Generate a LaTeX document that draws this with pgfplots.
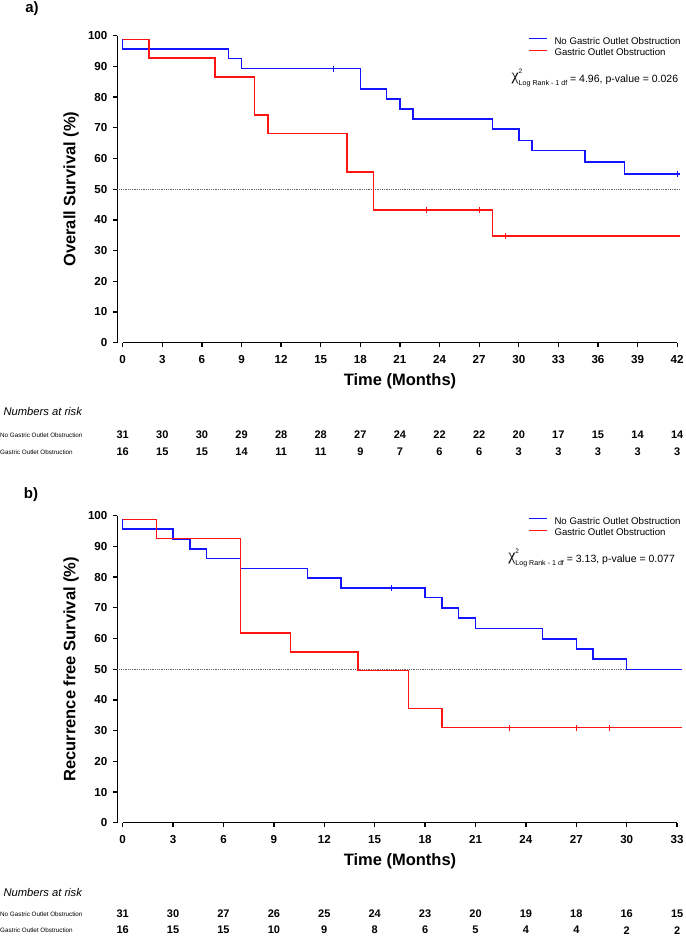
\documentclass[border=0pt]{standalone}
\usepackage{fontspec}
\setmainfont{Liberation Sans}
\newfontfamily\serifchi{Liberation Serif}
\usepackage{pgfplots}
\pgfplotsset{compat=1.18}
\definecolor{kmblue}{RGB}{20,20,255}
\definecolor{kmred}{RGB}{255,20,20}

\pgfplotsset{
  kmaxis/.style={
    scale only axis, clip=false,
    axis x line*=bottom, axis y line*=left,
    x axis line style={draw=none},
    y axis line style={-, line width=1.3pt},
    tick align=outside, major tick length=4pt,
    ymin=0, ymax=100, ytick={0,10,...,100},
    tick style={black, line width=1.3pt},
    /pgf/number format/assume math mode=true,
    ticklabel style={font=\bfseries\fontsize{11.6}{12}\selectfont},
    yticklabel style={xshift=-2.4pt},
    xticklabel style={yshift=-5pt},
    label style={font=\bfseries\fontsize{16.5}{18}\selectfont},
    legend style={draw=none, fill=none, font=\fontsize{9.65}{11}\selectfont,
      row sep=0pt, inner sep=0pt, nodes={inner sep=1pt, text height=7.3pt, text depth=2.3pt},
      /tikz/every odd column/.append style={column sep=6pt}},
    legend cell align=left,
    legend image code/.code={\draw[#1, line width=1.4pt] (0pt,3pt) -- (18pt,3pt);},
  },
  km/.style={const plot, line width=1.5pt, mark=none},
  cens/.style={only marks, mark=|, mark size=3pt, line width=1pt, forget plot},
  risk/.style={draw=none, mark=none, forget plot, nodes near coords, point meta=explicit symbolic,
    nodes near coords style={anchor=center, inner sep=0pt, text=black, font=\bfseries\fontsize{11}{12}\selectfont}},
}
\newcommand{\chisq}{{\serifchi\fontsize{16}{16}\selectfont\raisebox{1.5pt}{χ}}\rlap{\raisebox{9pt}{\fontsize{6.5}{7}\selectfont 2}}\raisebox{-3.5pt}{\fontsize{7.1}{8}\selectfont Log Rank - 1 df}}

\begin{document}
\begin{tikzpicture}[x=1pt,y=1pt]
\path[use as bounding box] (0,0) rectangle (685,-936);

% ---------- panel a ----------
\node[font=\bfseries\fontsize{15}{16}\selectfont] at (32,-9) {a)};
\begin{axis}[kmaxis, at={(117.3pt,-342.7pt)}, anchor=south west,
  width=562.5pt, height=307pt, xmin=-0.41, xmax=42.2, xtick={0,3,...,42},
  xlabel={Time (Months)}, ylabel={Overall Survival (\%)},
  xlabel style={at={(axis description cs:0.5026,-0.1248)}, anchor=center},
  ylabel style={at={(axis description cs:-0.082,0.5)}, anchor=center},
  legend style={at={(axis description cs:0.730,1.0)}, anchor=north west}]
\draw[line width=1.3pt] (axis cs:0,0) -- (axis cs:42,0);
\addplot[densely dotted, gray!80!black, line width=0.8pt, forget plot] coordinates {(-0.41,50) (42.2,50)};
\addplot[km, kmblue] coordinates {(0,98.8) (0,95.7) (8,92.5) (9,89.3) (18,82.7) (20,79.3) (21,76.1) (22,72.9) (28,69.6) (30,65.9) (31,62.6) (35,58.9) (38,55.0) (42.2,55.0)};
\addlegendentry{No Gastric Outlet Obstruction}
\addplot[km, kmred] coordinates {(0,98.8) (2,92.7) (7,86.5) (10,74.1) (11,68.1) (17,55.6) (19,43.3) (28,34.7) (42.2,34.7)};
\addlegendentry{Gastric Outlet Obstruction}
\addplot[cens, kmblue] coordinates {(16,89.3) (42,55.0)};
\addplot[cens, kmred] coordinates {(23,43.3) (27,43.3) (29,34.7)};
\addplot[risk] table[meta=n] {
t y n
0 -30.06 31
3 -30.06 30
6 -30.06 30
9 -30.06 29
12 -30.06 28
15 -30.06 28
18 -30.06 27
21 -30.06 24
24 -30.06 22
27 -30.06 22
30 -30.06 20
33 -30.06 17
36 -30.06 15
39 -30.06 14
42 -30.06 14
};
\addplot[risk] table[meta=n] {
t y n
0 -35.6 16
3 -35.6 15
6 -35.6 15
9 -35.6 14
12 -35.6 11
15 -35.6 11
18 -35.6 9
21 -35.6 7
24 -35.6 6
27 -35.6 6
30 -35.6 3
33 -35.6 3
36 -35.6 3
39 -35.6 3
42 -35.6 3
};
\node[anchor=base east, font=\fontsize{10.5}{12}\selectfont] at (axis description cs:1.0034,0.849)
 {\chisq{} = 4.96, p-value = 0.026};
\end{axis}
\node[anchor=west, font=\itshape\fontsize{11.2}{12}\selectfont] at (0,-411) {Numbers at risk};
\node[anchor=west, font=\fontsize{6.3}{7}\selectfont, inner sep=0pt] at (0,-435) {No Gastric Outlet Obstruction};
\node[anchor=west, font=\fontsize{6.3}{7}\selectfont, inner sep=0pt] at (0,-452) {Gastric Outlet Obstruction};

% ---------- panel b ----------
\node[font=\bfseries\fontsize{15}{16}\selectfont] at (31,-495) {b)};
\begin{axis}[kmaxis, at={(117.3pt,-822.7pt)}, anchor=south west,
  width=562.5pt, height=307pt, xmin=-0.32, xmax=33.16, xtick={0,3,...,33},
  xlabel={Time (Months)}, ylabel={Recurrence free Survival (\%)},
  xlabel style={at={(axis description cs:0.5026,-0.1248)}, anchor=center},
  ylabel style={at={(axis description cs:-0.082,0.5)}, anchor=center},
  legend style={at={(axis description cs:0.730,1.0)}, anchor=north west}]
\draw[line width=1.3pt] (axis cs:0,0) -- (axis cs:33,0);
\addplot[densely dotted, gray!80!black, line width=0.8pt, forget plot] coordinates {(-0.32,50) (33.3,50)};
\addplot[km, kmblue] coordinates {(0,98.8) (0,95.6) (3,92.3) (4,89.2) (5,86.0) (7,82.8) (11,79.7) (13,76.5) (18,73.3) (19,69.9) (20,66.7) (21,63.3) (25,59.8) (27,56.6) (28,53.3) (30,49.9) (33.3,49.9)};
\addlegendentry{No Gastric Outlet Obstruction}
\addplot[km, kmred] coordinates {(0,98.8) (2,92.6) (7,61.8) (10,55.6) (14,49.5) (17,37.2) (19,31.0) (33.3,31.0)};
\addlegendentry{Gastric Outlet Obstruction}
\addplot[cens, kmblue] coordinates {(16,76.5)};
\addplot[cens, kmred] coordinates {(23,31.0) (27,31.0) (29,31.0)};
\addplot[risk] table[meta=n] {
t y n
0 -29.7 31
3 -29.7 30
6 -29.7 27
9 -29.7 26
12 -29.7 25
15 -29.7 24
18 -29.7 23
21 -29.7 20
24 -29.7 19
27 -29.7 18
30 -29.7 16
33 -29.7 15
};
\addplot[risk] table[meta=n] {
t y n
0 -35.0 16
3 -35.0 15
6 -35.0 15
9 -35.0 10
12 -35.0 9
15 -35.0 8
18 -35.0 6
21 -35.0 5
24 -35.0 4
27 -35.0 4
30 -35.0 2
33 -35.0 2
};
\node[anchor=base east, font=\fontsize{10.5}{12}\selectfont] at (axis description cs:0.9975,0.849)
 {\chisq{} = 3.13, p-value = 0.077};
\end{axis}
\node[anchor=west, font=\itshape\fontsize{11.2}{12}\selectfont] at (0,-892) {Numbers at risk};
\node[anchor=west, font=\fontsize{6.3}{7}\selectfont, inner sep=0pt] at (0,-914) {No Gastric Outlet Obstruction};
\node[anchor=west, font=\fontsize{6.3}{7}\selectfont, inner sep=0pt] at (0,-930.5) {Gastric Outlet Obstruction};
\end{tikzpicture}
\end{document}
